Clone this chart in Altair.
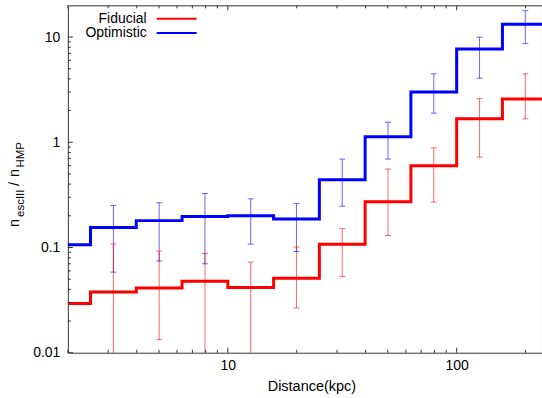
import altair as alt
import pandas as pd

# ---------------- data ----------------
series_names = ["Fiducial", "Optimistic"]
series_colors = ["#ff0000", "#0000ff"]

# histogram bin edges (kpc)
bin_edges = [1.585, 2.512, 3.981, 6.310, 10.0, 15.85, 25.12, 39.81, 63.10, 100.0, 158.5, 251.2]
fiducial_vals = [0.0294, 0.0377, 0.0412, 0.0477, 0.0416, 0.0510, 0.1076, 0.272, 0.597, 1.67, 2.58]
optimistic_vals = [0.106, 0.155, 0.180, 0.1975, 0.2005, 0.187, 0.44, 1.13, 3.01, 7.7, 13.2]

# error bars at bin centres
bar_centers = [3.162, 5.012, 7.943, 12.59, 19.95, 31.62, 50.12, 79.43, 125.9, 199.5]
fiducial_lo = [0.001, 0.0133, 0.001, 0.001, 0.0266, 0.0531, 0.130, 0.270, 0.722, 1.67]
fiducial_hi = [0.108, 0.0925, 0.0877, 0.0726, 0.101, 0.151, 0.556, 0.885, 2.60, 4.47]
optimistic_lo = [0.0583, 0.0743, 0.070, 0.1076, 0.0916, 0.247, 0.692, 1.89, 4.06, 8.65]
optimistic_hi = [0.251, 0.266, 0.326, 0.290, 0.262, 0.692, 1.55, 4.47, 9.96, 17.8]

# axis ticks / labels
x_label_vals = [10, 100]
x_minor_ticks = [2, 3, 4, 5, 6, 7, 8, 9, 20, 30, 40, 50, 60, 70, 80, 90, 200]
y_label_vals = [0.01, 0.1, 1, 10]
y_minor_ticks = [0.02, 0.03, 0.04, 0.05, 0.06, 0.07, 0.08, 0.09,
                 0.2, 0.3, 0.4, 0.5, 0.6, 0.7, 0.8, 0.9,
                 2, 3, 4, 5, 6, 7, 8, 9]
x_title = "Distance(kpc)"
y_title_parts = ["n", "escIII", "/", "n", "HMP"]

# ---------------- tables ----------------
def step_rows(name, vals):
    rows = [{"series": name, "d": e, "v": v} for e, v in zip(bin_edges[:-1], vals)]
    rows.append({"series": name, "d": bin_edges[-1], "v": vals[-1]})
    return rows

steps = pd.DataFrame(step_rows(series_names[1], optimistic_vals) +
                     step_rows(series_names[0], fiducial_vals))

errs = pd.DataFrame(
    [{"series": series_names[1], "c": c, "lo": lo, "hi": hi}
     for c, lo, hi in zip(bar_centers, optimistic_lo, optimistic_hi)] +
    [{"series": series_names[0], "c": c, "lo": lo, "hi": hi}
     for c, lo, hi in zip(bar_centers, fiducial_lo, fiducial_hi)]
)

W, H = 475, 348
FONT = "Liberation Sans"
BORDER = "#333333"

xs = alt.Scale(type="log", domain=[2, 236])
ys = alt.Scale(type="log", domain=[0.01, 20])
cs = alt.Scale(domain=series_names, range=series_colors)

x_axis = alt.Axis(values=x_label_vals, format="~g", title=x_title, ticks=False, domain=False,
                  grid=False, labelFont=FONT, labelFontSize=14, labelColor="#000",
                  labelPadding=6, titleFont=FONT, titleFontSize=14.5, titleFontWeight="normal",
                  titleColor="#000", titleX=244, titleY=38, titleBaseline="alphabetic")
y_axis = alt.Axis(values=y_label_vals, format="~g", title=None, ticks=False, domain=False,
                  grid=False, labelFont=FONT, labelFontSize=14, labelColor="#000",
                  labelPadding=8)

def X(field):
    return alt.X(field, scale=xs, axis=x_axis)

def Y(field):
    return alt.Y(field, scale=ys, axis=y_axis)

step_layer = alt.Chart(steps).mark_line(interpolate="step-after", strokeWidth=3, clip=True).encode(
    x=X("d:Q"),
    y=Y("v:Q"),
    color=alt.Color("series:N", scale=cs, legend=None),
    detail="series:N",
)

err_layer = alt.Chart(errs).mark_rule(strokeWidth=1, opacity=0.6, clip=True).encode(
    x=X("c:Q"),
    y=Y("lo:Q"),
    y2="hi:Q",
    color=alt.Color("series:N", scale=cs, legend=None),
)

cap_layer = alt.Chart(errs).transform_fold(["lo", "hi"], as_=["k", "yv"]).mark_rule(
    strokeWidth=1, opacity=0.6, clip=True, xOffset=-3, x2Offset=3).encode(
    x=X("c:Q"),
    x2="c:Q",
    y=Y("yv:Q"),
    color=alt.Color("series:N", scale=cs, legend=None),
)

def xticks(vals, y0, y1):
    return alt.Chart(pd.DataFrame({"t": vals})).mark_rule(color=BORDER, strokeWidth=1).encode(
        x=X("t:Q"), y=alt.value(y0), y2=alt.value(y1))

def yticks(vals, length):
    return alt.Chart(pd.DataFrame({"t": vals})).mark_rule(color=BORDER, strokeWidth=1).encode(
        y=Y("t:Q"), x=alt.value(0), x2=alt.value(length))

tick_layers = [
    xticks(x_minor_ticks, H, H - 3), xticks(x_label_vals, H, H - 5),
    xticks(x_minor_ticks, 0, 3), xticks(x_label_vals, 0, 5),
    yticks(y_minor_ticks, 3), yticks(y_label_vals, 5),
]

# legend (gnuplot style: text, then line sample)
legend_layers = []
for i, (name, col) in enumerate(zip(series_names, series_colors)):
    yy = 13.3 + 14.4 * i
    d = pd.DataFrame({"label": [name]})
    legend_layers.append(alt.Chart(d).mark_text(align="right", baseline="middle", font=FONT,
                                                fontSize=14, color="#000").encode(
        x=alt.value(79), y=alt.value(yy), text="label:N"))
    legend_layers.append(alt.Chart(d).mark_rule(strokeWidth=2, color=col).encode(
        x=alt.value(89), x2=alt.value(129), y=alt.value(yy)))

# y-axis title with subscripts, rotated
title_specs = [  # (x, y, size)
    (-49, 222, 14.5),
    (-44, 212, 11.5),
    (-49, 181, 14.5),
    (-49, 172, 14.5),
    (-44, 162.5, 11.5),
]
title_layers = []
for part, (tx, ty, fs) in zip(y_title_parts, title_specs):
    title_layers.append(alt.Chart(pd.DataFrame({"s": [part]})).mark_text(
        angle=270, align="left", baseline="alphabetic", font=FONT, fontSize=fs, color="#000").encode(
        x=alt.value(tx), y=alt.value(ty), text="s:N"))

chart = alt.layer(step_layer, err_layer, cap_layer, *tick_layers, *legend_layers, *title_layers).properties(
    width=W, height=H,
    autosize=alt.AutoSizeParams(type="none"),
    padding={"left": 68, "top": 5, "right": 0, "bottom": 45},
).configure_view(stroke=BORDER, strokeWidth=1)

chart.save("out.html", embed_options={"renderer": "svg", "actions": False})
